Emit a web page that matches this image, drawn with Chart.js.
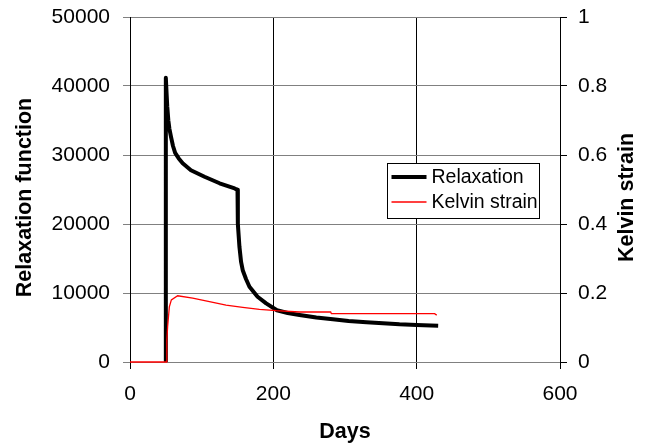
<!DOCTYPE html>
<html>
<head>
<meta charset="utf-8">
<script src="https://cdn.jsdelivr.net/npm/chart.js@4.4.1/dist/chart.umd.min.js"></script>
<style>
  html, body { margin: 0; padding: 0; background: #fff; }
  #chart { display: block; }
</style>
</head>
<body>
<canvas id="chart" width="658" height="445"></canvas>
<script>
// values
const relaxDays = [50, 50, 51, 52, 53.5, 55, 57.3, 60, 63, 68, 73.5, 85, 104, 125, 146, 150,
  150.5, 152.7, 155, 157.3, 162, 166.7, 178, 190, 205, 220, 236.5, 260, 283, 305, 330, 376, 400, 430];
const relaxValues = [0, 41200, 39000, 37000, 35000, 33800, 32600, 31300, 30300, 29500, 28800, 27800, 26850, 25900, 25150, 24950,
  20000, 16700, 14500, 13300, 12000, 10900, 9460, 8500, 7500, 7100, 6810, 6450, 6190, 5950, 5750, 5460, 5370, 5260];

const kelvinDays = [0, 50.3, 51.4, 52.5, 54.9, 57.7, 66.5, 87.5, 110.8, 134, 157.3, 180.6, 204, 236.5, 280, 281, 425, 428];
const kelvinValues = [0, 0, 0.064, 0.102, 0.16, 0.18, 0.192, 0.185, 0.175, 0.165, 0.1586, 0.1528, 0.1487, 0.145, 0.145, 0.14, 0.14, 0.136];

const xTicks = [0, 200, 400, 600];
const leftTicks = [0, 10000, 20000, 30000, 40000, 50000];
const rightTicks = [0, 0.2, 0.4, 0.6, 0.8, 1];

const seriesLabels = ['Relaxation', 'Kelvin strain'];
const xTitle = 'Days';
const leftTitle = 'Relaxation function';
const rightTitle = 'Kelvin strain';

const FONT = "'Liberation Sans', Arial, sans-serif";
const GRID_GREY = '#808080';

function toPoints(xs, ys) {
  return xs.map((x, i) => ({ x, y: ys[i] }));
}

function fixTicks(values) {
  return (scale) => { scale.ticks = values.map((value) => ({ value })); };
}

// force the axis box size so the plot area lands where the reference has it
function fixWidth(w) {
  return (scale) => {
    scale.width = w;
    scale.paddingTop = 0;
    scale.paddingBottom = 0;
  };
}

const plainLabel = (value) => String(value);

// vertical axis titles, both reading bottom to top
const sideTitles = {
  id: 'sideTitles',
  afterDraw(chart) {
    const { ctx, chartArea, scales } = chart;
    const midY = (chartArea.top + chartArea.bottom) / 2 + 8;
    ctx.save();
    ctx.font = `bold 21.5px ${FONT}`;
    ctx.fillStyle = '#000';
    ctx.textAlign = 'center';
    ctx.textBaseline = 'middle';
    [[scales.y.left + 25, leftTitle], [scales.y1.right - 31, rightTitle]].forEach(([x, text]) => {
      ctx.save();
      ctx.translate(x, midY);
      ctx.rotate(-Math.PI / 2);
      ctx.fillText(text, 0, 0);
      ctx.restore();
    });
    ctx.restore();
  },
};

// boxed legend sitting inside the plot
const boxLegend = {
  id: 'boxLegend',
  afterDatasetsDraw(chart) {
    const { ctx, chartArea } = chart;
    const left = chartArea.left + 257.5;
    const top = chartArea.top + 146.5;
    const w = 152;
    const h = 55;
    ctx.save();
    ctx.fillStyle = '#fff';
    ctx.fillRect(left, top, w, h);
    ctx.strokeStyle = '#000';
    ctx.lineWidth = 1;
    ctx.strokeRect(left, top, w, h);
    ctx.font = `19.5px ${FONT}`;
    ctx.textBaseline = 'middle';
    ctx.fillStyle = '#000';
    chart.data.datasets.forEach((ds, i) => {
      const y = top + 13.5 + i * 25;
      ctx.strokeStyle = ds.borderColor;
      ctx.lineWidth = ds.borderWidth;
      ctx.beginPath();
      ctx.moveTo(left + 4, y);
      ctx.lineTo(left + 39, y);
      ctx.stroke();
      ctx.fillText(ds.label, left + 44, y + 1);
    });
    ctx.restore();
  },
};

new Chart(document.getElementById('chart'), {
  type: 'line',
  data: {
    datasets: [
      {
        label: seriesLabels[0],
        data: toPoints(relaxDays, relaxValues),
        yAxisID: 'y',
        borderColor: '#000',
        borderWidth: 4,
        borderJoinStyle: 'round',
        pointRadius: 0,
        tension: 0,
        order: 1,
      },
      {
        label: seriesLabels[1],
        data: toPoints(kelvinDays, kelvinValues),
        yAxisID: 'y1',
        borderColor: '#ff0000',
        borderWidth: 1.3,
        pointRadius: 0,
        tension: 0,
        clip: 3,
        order: 0,
      },
    ],
  },
  options: {
    responsive: false,
    animation: false,
    devicePixelRatio: 1,
    layout: { padding: { top: 17, left: 0, right: 0, bottom: 0 } },
    plugins: {
      legend: { display: false },
      tooltip: { enabled: false },
    },
    scales: {
      x: {
        type: 'linear',
        min: 0,
        max: 600,
        afterBuildTicks: fixTicks(xTicks),
        afterFit: (scale) => {
          scale.height = 83;
          scale.paddingLeft = 0;
          scale.paddingRight = 0;
        },
        grid: { color: '#000', tickColor: '#000', tickLength: 7, lineWidth: 1 },
        border: { display: false },
        ticks: { color: '#000', font: { family: FONT, size: 21 }, padding: 13, maxRotation: 0, callback: plainLabel },
        title: {
          display: true,
          text: xTitle,
          color: '#000',
          font: { family: FONT, size: 21.5, weight: 'bold' },
          padding: { top: 4, bottom: 0 },
        },
      },
      y: {
        position: 'left',
        min: 0,
        max: 50000,
        afterBuildTicks: fixTicks(leftTicks),
        afterFit: fixWidth(130),
        grid: { color: GRID_GREY, tickColor: GRID_GREY, tickLength: 7, lineWidth: 1 },
        border: { display: true, color: '#000', width: 1 },
        ticks: { color: '#000', font: { family: FONT, size: 21 }, padding: 13, callback: plainLabel },
      },
      y1: {
        position: 'right',
        min: 0,
        max: 1,
        afterBuildTicks: fixTicks(rightTicks),
        afterFit: fixWidth(98),
        grid: { drawOnChartArea: false, tickColor: '#000', tickLength: 7 },
        border: { display: true, color: '#000', width: 1 },
        ticks: { color: '#000', font: { family: FONT, size: 21 }, padding: 11, callback: plainLabel },
      },
    },
  },
  plugins: [boxLegend, sideTitles],
});
</script>
</body>
</html>
